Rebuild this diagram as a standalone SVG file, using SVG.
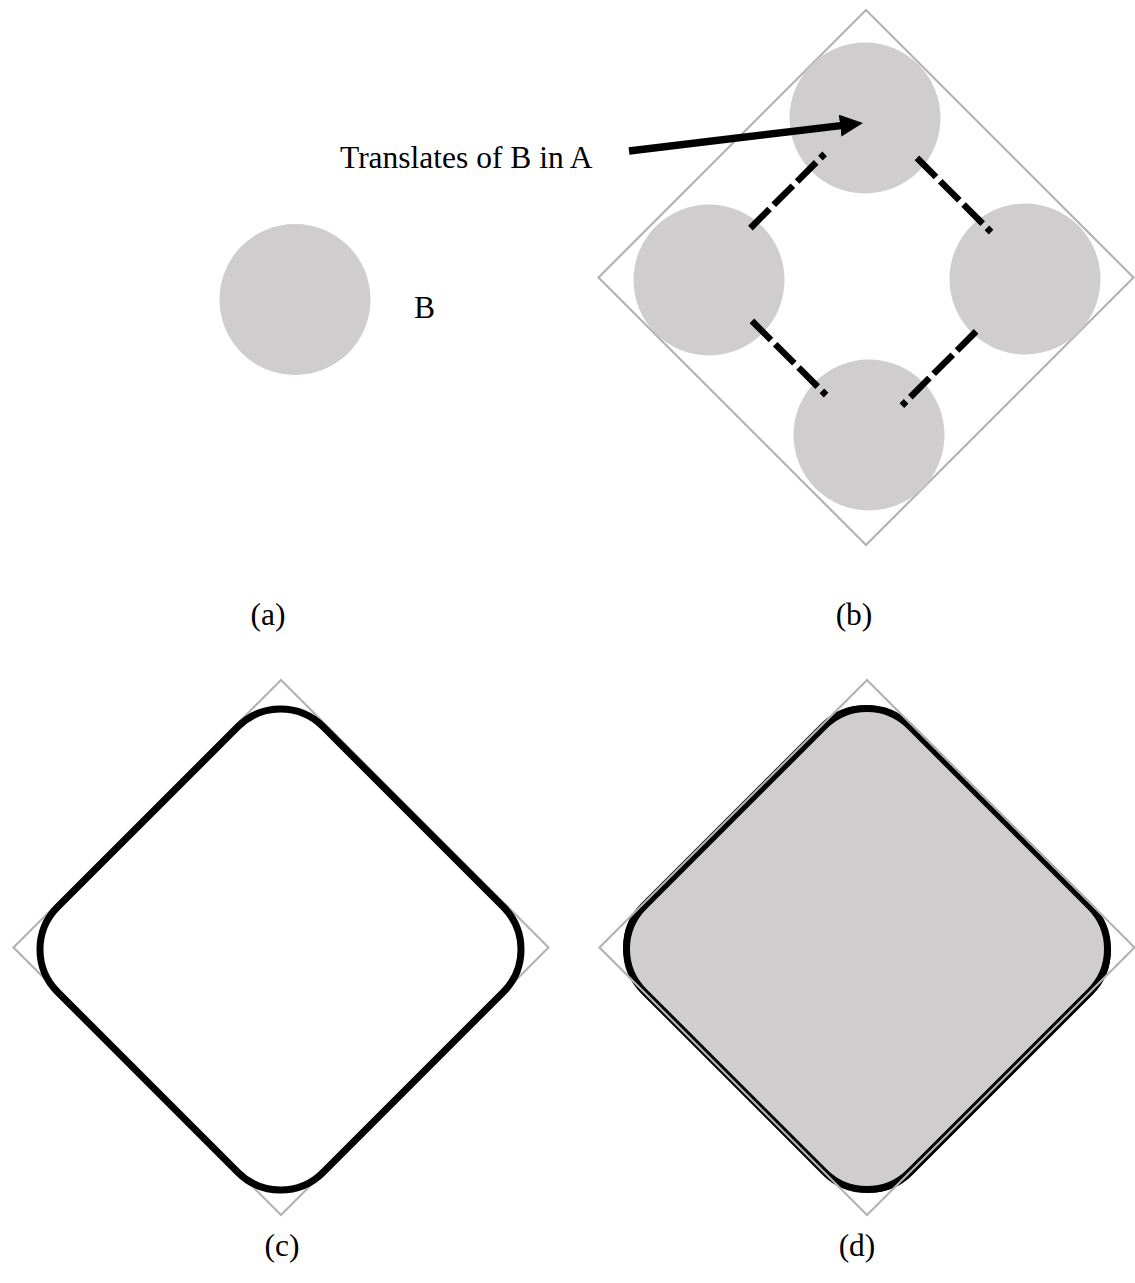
<svg xmlns="http://www.w3.org/2000/svg" xmlns:xlink="http://www.w3.org/1999/xlink" width="1135" height="1283" viewBox="0 0 1135 1283">
<style>
.lbl{font-family:"Liberation Serif","Times New Roman",serif;font-size:31.5px;fill:#000}
.cap{text-anchor:middle}
.disk{fill:#cfcdce}
.frame{fill:none;stroke:#b3b3b3;stroke-width:2.2}
.dash{fill:none;stroke:#000;stroke-width:6.5;stroke-dasharray:27 6;stroke-linecap:butt}
.outline{fill:none;stroke:#000;stroke-width:7}
</style>
<defs>
<polygon id="dia" points="0,-267.5 267.5,0 0,267.5 -267.5,0"/>
<path id="rd" d="M-42.43,-222.93 A60,60 0 0 1 42.43,-222.93 L222.93,-42.43 A60,60 0 0 1 222.93,42.43 L42.43,222.93 A60,60 0 0 1 -42.43,222.93 L-222.93,42.43 A60,60 0 0 1 -222.93,-42.43 Z"/>
<marker id="ah" markerUnits="userSpaceOnUse" markerWidth="23" markerHeight="22" refX="5" refY="11" orient="auto" viewBox="0 0 23 22">
<path d="M0,0 L23,11 L0,22 Z" fill="#000"/>
</marker>
</defs>

<g id="panel-a">
<circle id="disk-B" class="disk" cx="295" cy="299.5" r="75.5"/>
<text id="label-B" class="lbl" x="414" y="318">B</text>
<text id="cap-a" class="lbl cap" x="268" y="625">(a)</text>
</g>

<g id="panel-b">
<use id="frame-b" href="#dia" class="frame" transform="translate(866,277.5)"/>
<circle id="disk-top" class="disk" cx="865" cy="118" r="75.5"/>
<circle id="disk-left" class="disk" cx="709" cy="280" r="75.5"/>
<circle id="disk-right" class="disk" cx="1025" cy="279" r="75.5"/>
<circle id="disk-bottom" class="disk" cx="869" cy="435" r="75.5"/>
<text id="label-translates" class="lbl" x="340" y="168">Translates of B in A</text>
<text id="cap-b" class="lbl cap" x="854" y="625">(b)</text>
</g>

<g id="connectors">
<line class="dash" x1="750.4" y1="228.1" x2="824.6" y2="153.9"/>
<line class="dash" x1="916.9" y1="157.9" x2="991.1" y2="232.1"/>
<line class="dash" x1="751.9" y1="320.9" x2="826.1" y2="395.1"/>
<line class="dash" x1="976.1" y1="331.4" x2="901.9" y2="405.6"/>
<line id="arrow" x1="629" y1="151" x2="845.1" y2="125.1" stroke="#000" stroke-width="7.5" marker-end="url(#ah)"/>
</g>

<g id="panel-c">
<use id="frame-c" href="#dia" class="frame" transform="translate(281,947.5)"/>
<use id="shape-c" href="#rd" class="outline" transform="translate(280.5,949.5)"/>
<text id="cap-c" class="lbl cap" x="282" y="1256">(c)</text>
</g>

<g id="panel-d">
<use id="fill-d" href="#rd" fill="#cfcdce" stroke="none" transform="translate(867,949)"/>
<use id="shape-d2" href="#rd" fill="none" stroke="#000" stroke-width="3" transform="translate(867,949) rotate(-45) scale(1,1.015) rotate(45)"/>
<use id="shape-d" href="#rd" class="outline" transform="translate(867,949)"/>
<use id="frame-d" href="#dia" class="frame" transform="translate(867,947.5)"/>
<text id="cap-d" class="lbl cap" x="857" y="1256">(d)</text>
</g>
</svg>
